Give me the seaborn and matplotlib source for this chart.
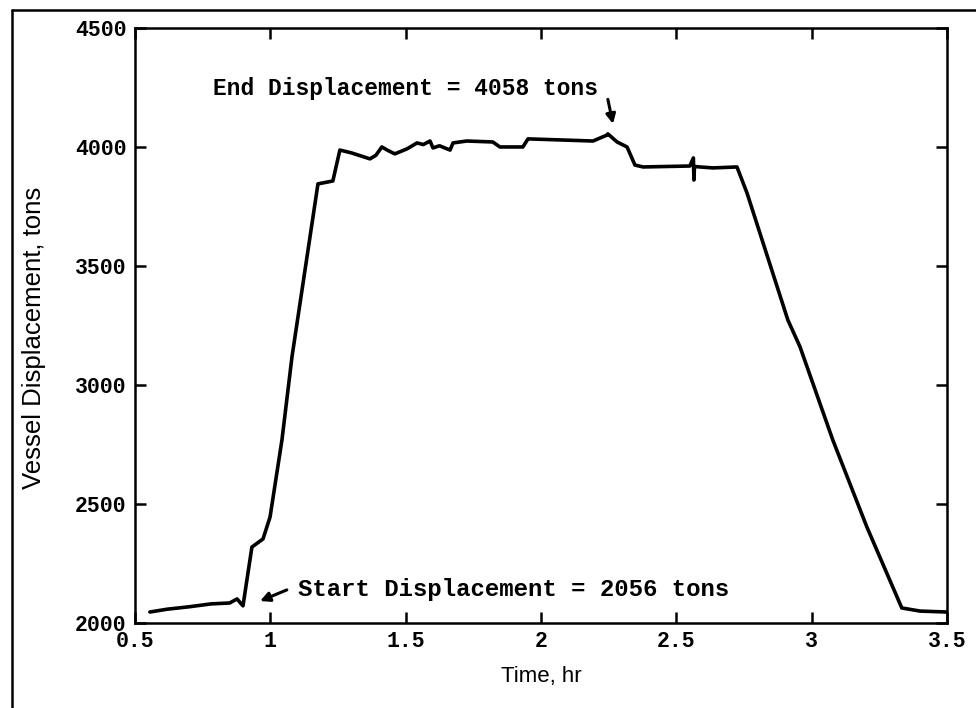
import matplotlib
matplotlib.use("Agg")
import matplotlib.pyplot as plt
from matplotlib.lines import Line2D
import seaborn as sns
import pandas as pd

# ---- data ----
time_hr = [0.555, 0.62, 0.70, 0.78, 0.85, 0.877, 0.899, 0.932, 0.973, 0.999,
           1.043, 1.08, 1.176, 1.231, 1.257, 1.30, 1.368, 1.39, 1.412, 1.435,
           1.460, 1.505, 1.542, 1.565, 1.59, 1.601, 1.625, 1.64, 1.664, 1.675,
           1.726, 1.822, 1.848, 1.933, 1.952, 2.192, 2.244, 2.247, 2.281, 2.318,
           2.347, 2.377, 2.55, 2.563, 2.565, 2.567, 2.587, 2.635, 2.724, 2.761,
           2.912, 2.957, 3.078, 3.204, 3.333, 3.40, 3.5]
displacement = [2046, 2058, 2068, 2080, 2084, 2101, 2072, 2319, 2353, 2445,
                2769, 3118, 3845, 3857, 3987, 3975, 3950, 3965, 4000, 3985,
                3971, 3992, 4017, 4010, 4025, 3996, 4005, 3998, 3987, 4017,
                4025, 4021, 4000, 4000, 4034, 4025, 4050, 4055, 4021, 4000,
                3924, 3916, 3920, 3954, 3861, 3918, 3916, 3912, 3916, 3807,
                3273, 3160, 2769, 2403, 2063, 2050, 2046]
x_ticks = [0.5, 1, 1.5, 2, 2.5, 3, 3.5]
x_tick_labels = ["0.5", "1", "1.5", "2", "2.5", "3", "3.5"]
y_ticks = [2000, 2500, 3000, 3500, 4000, 4500]
y_tick_labels = ["2000", "2500", "3000", "3500", "4000", "4500"]
end_label = "End Displacement = 4058 tons"
start_label = "Start Displacement = 2056 tons"

df = pd.DataFrame({"Time": time_hr, "Disp": displacement})

sns.set_style("ticks")
plt.rcParams["font.family"] = ["DejaVu Sans"]
plt.rcParams["text.color"] = "black"
plt.rcParams["axes.labelcolor"] = "black"

fig = plt.figure(figsize=(9.76, 7.08), dpi=100)
ax = fig.add_axes([0.1383, 0.1201, 0.832, 0.8404])

sns.lineplot(data=df, x="Time", y="Disp", ax=ax, color="black",
             linewidth=2.6, sort=False, estimator=None)

ax.set_xlim(0.5, 3.5)
ax.set_ylim(2000, 4500)
ax.set_xticks(x_ticks)
ax.set_yticks(y_ticks)
mono = dict(family="Liberation Mono", weight="bold", size=15.5)
ax.set_xticklabels(x_tick_labels, fontdict=mono)
ax.set_yticklabels(y_tick_labels, fontdict=mono)
ax.tick_params(direction="in", length=8, width=1.8, top=True, right=True,
               pad=6, colors="black")
for s in ax.spines.values():
    s.set_linewidth(1.8)
    s.set_color("black")

ax.set_xlabel("Time, hr", family="Liberation Sans", fontsize=16, labelpad=10)
ax.set_ylabel("Vessel Displacement, tons", family="Liberation Sans",
              fontsize=18.5)
ax.yaxis.set_label_coords(-0.11, 0.479)

ax.text(0.788, 4244, end_label, va="center", ha="left",
        family="Liberation Mono", weight="bold", size=16.5)
ax.text(1.102, 2139, start_label, va="center", ha="left",
        family="Liberation Mono", weight="bold", size=17.3)
arrow = dict(arrowstyle="-|>", lw=2.2, color="black", mutation_scale=14,
             shrinkA=0, shrinkB=0)
ax.annotate("", xy=(2.266, 4097), xytext=(2.247, 4200), arrowprops=arrow)
ax.annotate("", xy=(0.962, 2092), xytext=(1.061, 2139), arrowprops=arrow)

# outer frame (left and top edges)
fig.add_artist(Line2D([0.0123, 0.0123], [0.0, 0.9859], transform=fig.transFigure,
                      color="black", lw=1.8))
fig.add_artist(Line2D([0.0123, 1.0], [0.9859, 0.9859], transform=fig.transFigure,
                      color="black", lw=1.8))

fig.savefig("out.png", dpi=100, facecolor="white")
